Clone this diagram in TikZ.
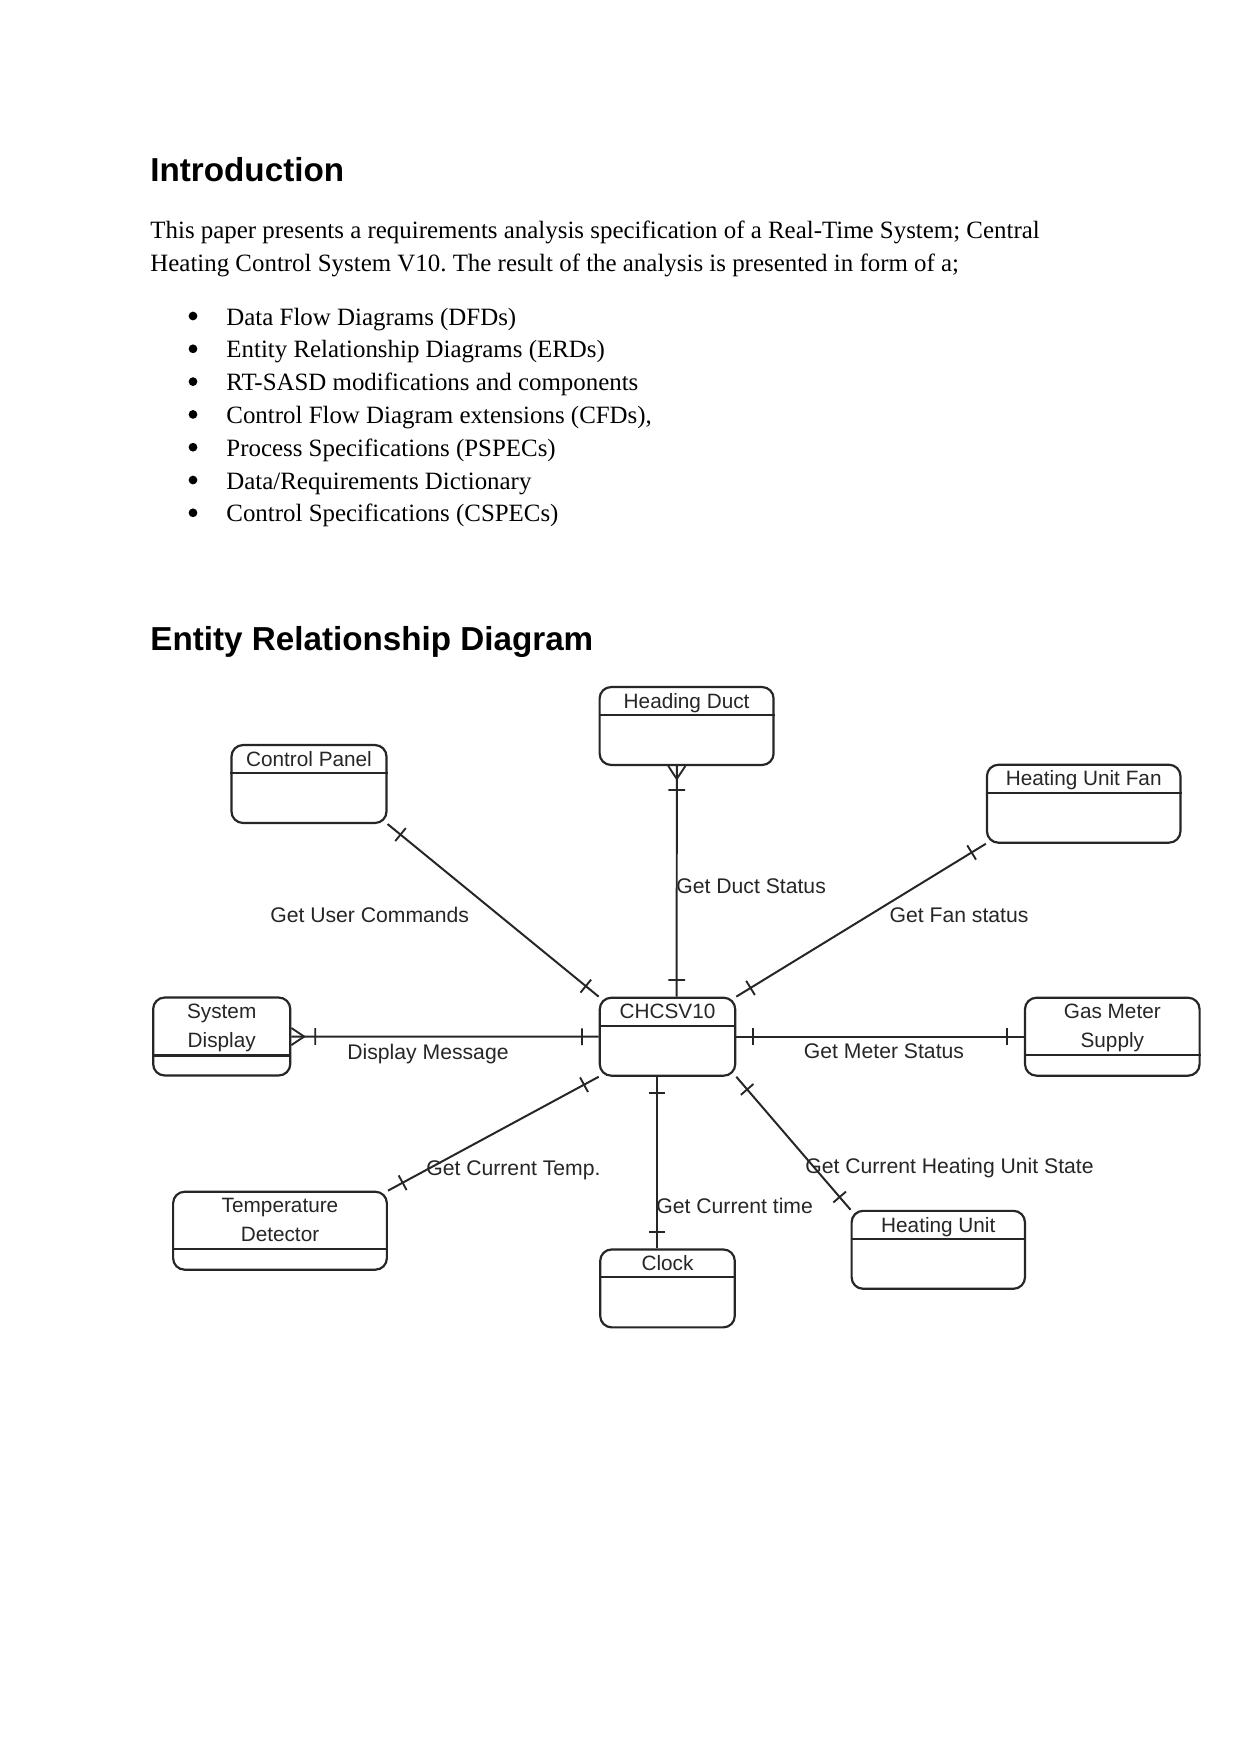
\documentclass[tikz,border=0pt]{standalone}
\usepackage{fontspec}
\setmainfont{Liberation Serif}
\setsansfont{Liberation Sans}
\usetikzlibrary{calc,decorations.markings}
\frenchspacing

\begin{document}
\begin{tikzpicture}[x=0.48bp, y=-0.48bp,
            heading/.style={anchor=base west, inner sep=0pt,
                            font=\fontsize{16}{19}\selectfont\sffamily\bfseries},
            body/.style={anchor=base west, inner sep=0pt, font=\fontsize{12}{14}\selectfont},
            bulletmark/.style={circle, fill=black, minimum size=4.2bp, inner sep=0pt},
            entity/.style={draw=black!85, line width=1.05bp, rounded corners=5.5bp, fill=white,
                           minimum height=37.4bp, inner sep=0pt},
            ename/.style={inner sep=0pt, align=center, text=black!85,
                          font=\fontsize{10}{13.8}\selectfont\sffamily},
            divider/.style={draw=black!85, line width=1.05bp},
            rlabel/.style={anchor=base, inner sep=0pt, text=black!85,
                           font=\fontsize{10.2}{12}\selectfont\sffamily},
            rel/.style={draw=black!85, line width=0.95bp, postaction={decorate},
                        decoration={markings,
                          mark=at position 8bp with {\draw[black!85, line width=0.9bp] (0bp,-4bp) -- (0bp,4bp);},
                          mark=at position -8bp with {\draw[black!85, line width=0.9bp] (0bp,-4bp) -- (0bp,4bp);}}},
            relmany/.style={draw=black!85, line width=0.95bp, postaction={decorate},
                        decoration={markings,
                          mark=at position 0bp with {\draw[black!85, line width=0.9bp] (0bp,4.1bp) -- (6.2bp,0bp) -- (0bp,-4.1bp);},
                          mark=at position 11.5bp with {\draw[black!85, line width=0.9bp] (0bp,-4bp) -- (0bp,4bp);},
                          mark=at position -8bp with {\draw[black!85, line width=0.9bp] (0bp,-4bp) -- (0bp,4bp);}}}
          ]
            \fill[white] (0,0) rectangle (1241,1754);
            \useasboundingbox (0,0) rectangle (1241,1754);

            % introduction
            \node[heading] (intro) at (150,181) {Introduction};
            \node[body] (para1) at (150,238.3) {This paper presents a requirements analysis specification of a Real-Time System; Central};
            \node[body] (para2) at (150,271) {Heating Control System V10. The result of the analysis is presented in form of a;};
            \node[bulletmark] (b1) at (193,316)   {};
            \node[bulletmark] (b2) at (193,348.8) {};
            \node[bulletmark] (b3) at (193,381.6) {};
            \node[bulletmark] (b4) at (193,414.4) {};
            \node[bulletmark] (b5) at (193,447.2) {};
            \node[bulletmark] (b6) at (193,480)   {};
            \node[bulletmark] (b7) at (193,512.8) {};
            \node[body] (item1) at (226,325)   {Data Flow Diagrams (DFDs)};
            \node[body] (item2) at (226,357.8) {Entity Relationship Diagrams (ERDs)};
            \node[body] (item3) at (226,390.6) {RT-SASD modifications and components};
            \node[body] (item4) at (226,423.4) {Control Flow Diagram extensions (CFDs),};
            \node[body] (item5) at (226,456.2) {Process Specifications (PSPECs)};
            \node[body] (item6) at (226,489)   {Data/Requirements Dictionary};
            \node[body] (item7) at (226,521.8) {Control Specifications (CSPECs)};

            % entity relationship diagram
            \node[heading] (erdtitle) at (150,650.7) {Entity Relationship Diagram};

            \node[entity, minimum width=74.4bp]  (cp)   at (309,784)        {};
            \node[entity, minimum width=83.5bp]  (duct) at (686.6,726)      {};
            \node[entity, minimum width=92.9bp]  (fan)  at (1083.7,803.7)   {};
            \node[entity, minimum width=65.8bp]  (sd)   at (221.7,1036.5)   {};
            \node[entity, minimum width=65bp]    (chc)  at (667.5,1036.7)   {};
            \node[entity, minimum width=83.8bp]  (gas)  at (1112.3,1036.7)  {};
            \node[entity, minimum width=102.6bp] (temp) at (280,1230.7)     {};
            \node[entity, minimum width=64.6bp]  (clk)  at (667.5,1288.4)   {};
            \node[entity, minimum width=83.2bp]  (hu)   at (938.3,1249.8)   {};

            \draw[divider] ($(cp.north west)+(0,29)$)   -- ($(cp.north east)+(0,29)$);
            \draw[divider] ($(duct.north west)+(0,29)$) -- ($(duct.north east)+(0,29)$);
            \draw[divider] ($(fan.north west)+(0,29)$)  -- ($(fan.north east)+(0,29)$);
            \draw[divider] ($(sd.north west)+(0,59)$)   -- ($(sd.north east)+(0,59)$);
            \draw[divider] ($(chc.north west)+(0,29)$)  -- ($(chc.north east)+(0,29)$);
            \draw[divider] ($(gas.north west)+(0,58)$)  -- ($(gas.north east)+(0,58)$);
            \draw[divider] ($(temp.north west)+(0,58)$) -- ($(temp.north east)+(0,58)$);
            \draw[divider] ($(clk.north west)+(0,29)$)  -- ($(clk.north east)+(0,29)$);
            \draw[divider] ($(hu.north west)+(0,29)$)   -- ($(hu.north east)+(0,29)$);

            \node[ename, anchor=base] (cpname)   at ($(cp.north)+(0,22.8)$)   {Control Panel};
            \node[ename, anchor=base] (ductname) at ($(duct.north)+(0,22.5)$) {Heading Duct};
            \node[ename, anchor=base] (fanname)  at ($(fan.north)+(0,22.3)$)  {Heating Unit Fan};
            \node[ename]              (sdname)   at ($(sd.north)+(0,31.4)$)   {System\\Display};
            \node[ename, anchor=base] (chcname)  at ($(chc.north)+(0,22)$)    {CHCSV10};
            \node[ename]              (gasname)  at ($(gas.north)+(0,31.4)$)  {Gas Meter\\Supply};
            \node[ename]              (tempname) at ($(temp.north)+(0,29.2)$) {Temperature\\Detector};
            \node[ename, anchor=base] (clkname)  at ($(clk.north)+(0,22.5)$)  {Clock};
            \node[ename, anchor=base] (huname)   at ($(hu.north)+(0,22.5)$)   {Heating Unit};

            \draw[rel]     (cp.south east) -- (chc.north west);
            \draw[relmany] ([xshift=-4.7bp]duct.south) -- ([xshift=4.4bp]chc.north);
            \draw[rel]     (fan.south west) -- (chc.north east);
            \draw[relmany] (sd) -- (chc);
            \draw[rel]     (chc) -- (gas);
            \draw[rel]     (chc.south west) -- (temp.north east);
            \draw[rel]     ([xshift=-5bp]chc.south) -- ([xshift=-5bp]clk.north);
            \draw[rel]     (chc.south east) -- (hu.north west);

            \node[rlabel] (lcmd)   at (369.7,922.7) {Get User Commands};
            \node[rlabel, anchor=base west] (lduct) at (676,893.7) {Get Duct Status};
            \node[rlabel] (lfan)   at (959,922)     {Get Fan status};
            \node[rlabel] (lmsg)   at (428,1059.7)  {Display Message};
            \node[rlabel] (lmeter) at (884,1058)    {Get Meter Status};
            \node[rlabel] (ltemp)  at (513.4,1175.3) {Get Current Temp.};
            \node[rlabel, anchor=base west] (ltime) at (656,1213.7) {Get Current time};
            \node[rlabel] (lstate) at (949.5,1173.7) {Get Current Heating Unit State};
          \end{tikzpicture}
\end{document}
